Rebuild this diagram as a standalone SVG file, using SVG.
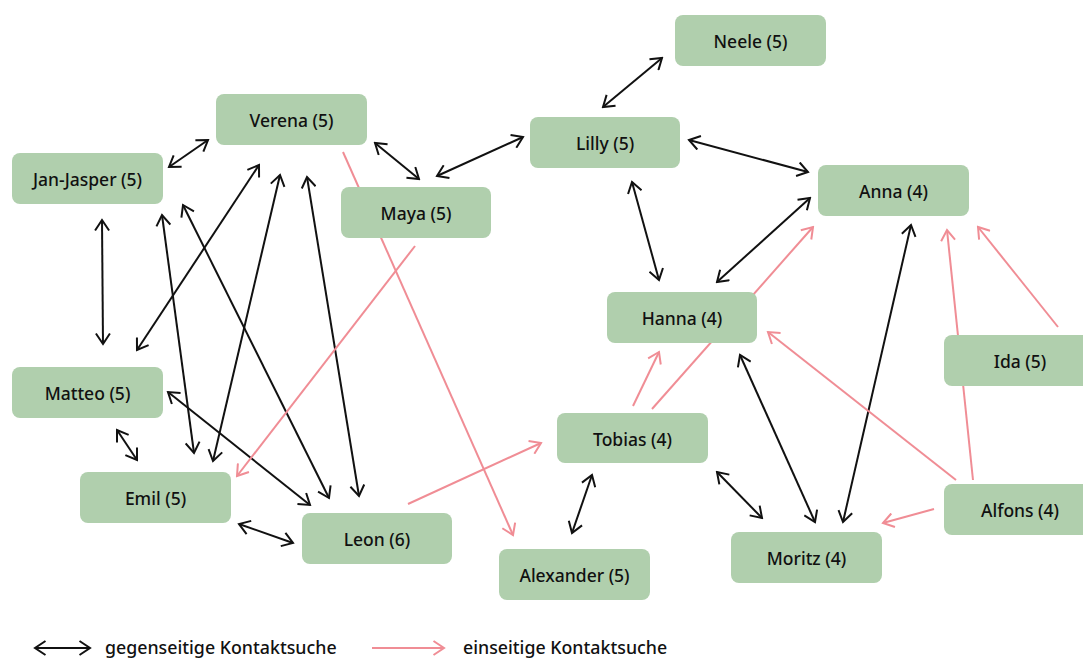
<svg xmlns="http://www.w3.org/2000/svg" width="1083" height="660" viewBox="0 0 1083 660">
<defs>
<style>
.n rect{fill:#b0cfad;}
.n text{font-family:"Noto Sans","Open Sans",sans-serif;font-size:17.5px;font-weight:500;fill:#111;text-anchor:middle;}
.m{stroke:#111;stroke-width:2;fill:none;marker-start:url(#hb);marker-end:url(#hb);}
.o{stroke:#f08d95;stroke-width:2;fill:none;marker-end:url(#hp);}
.lg{font-family:"Noto Sans","Open Sans",sans-serif;font-size:17.8px;font-weight:500;fill:#111;}
</style>
<marker id="hb" viewBox="-12 -8 14 16" refX="0" refY="0" markerWidth="14" markerHeight="16" markerUnits="userSpaceOnUse" orient="auto-start-reverse"><path d="M-10.5,-7 L0,0 L-10.5,7" fill="none" stroke="#111" stroke-width="2"/></marker>
<marker id="hp" viewBox="-12 -8 14 16" refX="0" refY="0" markerWidth="14" markerHeight="16" markerUnits="userSpaceOnUse" orient="auto-start-reverse"><path d="M-10.5,-7 L0,0 L-10.5,7" fill="none" stroke="#f08d95" stroke-width="2"/></marker>
</defs>
<rect width="1083" height="660" fill="#fff"/>
<g id="connectors">
<line class="m" x1="603" y1="107" x2="662" y2="58"/>
<line class="m" x1="169" y1="167" x2="208" y2="140"/>
<line class="m" x1="375" y1="143" x2="419" y2="179"/>
<line class="m" x1="437" y1="176" x2="523" y2="137"/>
<line class="m" x1="689" y1="140" x2="808" y2="172"/>
<line class="m" x1="632" y1="182" x2="659" y2="280"/>
<line class="m" x1="717" y1="282" x2="810" y2="198"/>
<line class="m" x1="102" y1="220" x2="103" y2="344"/>
<line class="m" x1="162" y1="215" x2="194" y2="453"/>
<line class="m" x1="183" y1="205" x2="329" y2="498"/>
<line class="m" x1="259" y1="165" x2="137" y2="350"/>
<line class="m" x1="280" y1="175" x2="213" y2="461"/>
<line class="m" x1="307" y1="177" x2="359" y2="496"/>
<line class="m" x1="168" y1="392" x2="310" y2="505"/>
<line class="m" x1="117" y1="430" x2="137" y2="460"/>
<line class="m" x1="239" y1="524" x2="293" y2="543"/>
<line class="m" x1="592" y1="475" x2="572" y2="533"/>
<line class="m" x1="717" y1="472" x2="762" y2="518"/>
<line class="m" x1="740" y1="355" x2="815" y2="522"/>
<line class="m" x1="911" y1="225" x2="843" y2="522"/>
<line class="o" x1="343" y1="152" x2="513" y2="535"/>
<line class="o" x1="415" y1="246" x2="237" y2="476"/>
<line class="o" x1="408" y1="504" x2="541" y2="443"/>
<line class="o" x1="633" y1="406" x2="659" y2="352"/>
<line class="o" x1="652" y1="409" x2="813" y2="227"/>
<line class="o" x1="956" y1="480" x2="768" y2="332"/>
<line class="o" x1="934" y1="509" x2="883" y2="523"/>
<line class="o" x1="973" y1="480" x2="947" y2="230"/>
<line class="o" x1="1058" y1="327" x2="978" y2="227"/>
</g>
<g id="neele" class="n"><rect x="675" y="15" width="151" height="51" rx="8"/><text x="750.5" y="47.5">Neele (5)</text></g>
<g id="verena" class="n"><rect x="216" y="94" width="151" height="51" rx="8"/><text x="291.5" y="126.5">Verena (5)</text></g>
<g id="jan-jasper" class="n"><rect x="12" y="153" width="151" height="51" rx="8"/><text x="87.5" y="185.5">Jan-Jasper (5)</text></g>
<g id="maya" class="n"><rect x="341" y="187" width="150" height="51" rx="8"/><text x="416" y="219.5">Maya (5)</text></g>
<g id="lilly" class="n"><rect x="530" y="117" width="150" height="51" rx="8"/><text x="605" y="149.5">Lilly (5)</text></g>
<g id="anna" class="n"><rect x="818" y="165" width="151" height="51" rx="8"/><text x="893.5" y="197.5">Anna (4)</text></g>
<g id="hanna" class="n"><rect x="607" y="292" width="150" height="51" rx="8"/><text x="682" y="324.5">Hanna (4)</text></g>
<g id="ida" class="n"><rect x="944" y="335" width="151" height="51" rx="8"/><text x="1020" y="367.5">Ida (5)</text></g>
<g id="tobias" class="n"><rect x="557" y="413" width="151" height="50" rx="8"/><text x="632.5" y="445.5">Tobias (4)</text></g>
<g id="alfons" class="n"><rect x="944" y="484" width="151" height="51" rx="8"/><text x="1020" y="516.5">Alfons (4)</text></g>
<g id="moritz" class="n"><rect x="731" y="532" width="151" height="51" rx="8"/><text x="806.5" y="564.5">Moritz (4)</text></g>
<g id="alexander" class="n"><rect x="499" y="549" width="151" height="51" rx="8"/><text x="574.5" y="581.5">Alexander (5)</text></g>
<g id="leon" class="n"><rect x="302" y="513" width="150" height="51" rx="8"/><text x="377" y="545.5">Leon (6)</text></g>
<g id="emil" class="n"><rect x="80" y="472" width="151" height="51" rx="8"/><text x="155.5" y="504.5">Emil (5)</text></g>
<g id="matteo" class="n"><rect x="12" y="367" width="151" height="51" rx="8"/><text x="87.5" y="399.5">Matteo (5)</text></g>
<g id="legend">
<line class="m" x1="35" y1="648" x2="90" y2="648"/>
<text class="lg" x="105" y="654">gegenseitige Kontaktsuche</text>
<line class="o" x1="372" y1="648" x2="444" y2="648"/>
<text class="lg" x="463" y="654">einseitige Kontaktsuche</text>
</g>
</svg>
